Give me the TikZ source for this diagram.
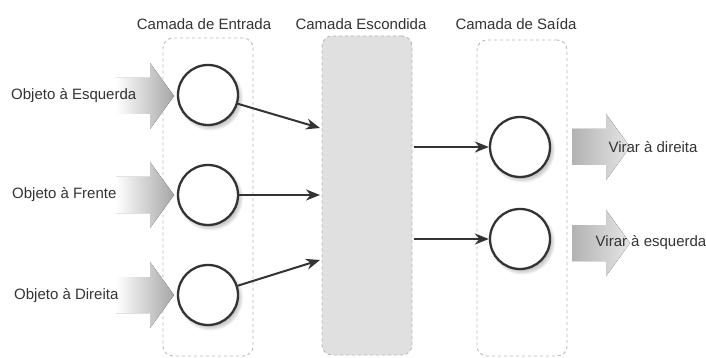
\documentclass[tikz,border=0pt]{standalone}
\usepackage{fontspec}
\setmainfont{Liberation Sans}
\usetikzlibrary{arrows.meta,shadows}
\definecolor{ink}{HTML}{333333}
\definecolor{dashc}{HTML}{B8B8B8}
\begin{document}
\begin{tikzpicture}[x=1pt,y=-1pt,
  txt/.style={font=\fontsize{15}{17}\selectfont, text=ink, inner sep=0pt},
  layerbox/.style={draw=dashc, line width=0.9pt, dash pattern=on 3pt off 3pt, rounded corners=10pt, inner sep=0pt},
  neuron/.style={circle, draw=ink, line width=2.3pt, fill=white, minimum size=60pt, inner sep=0pt,
    circular drop shadow={shadow xshift=2pt, shadow yshift=-2.5pt, opacity=0.35, fill=black!60}},
  link/.style={draw=ink, line width=2pt, -{Stealth[length=14pt,width=11pt]}},
  fatin/.style={left color=white, right color=black!35},
  fatout/.style={left color=black!30, right color=black!10},
  pics/fatarrow/.style={code={\fill[#1] (-58,-18) -- (-24,-18) -- (-24,-33) -- (0,0) -- (-24,33) -- (-24,18) -- (-58,18) -- cycle;}}
]
\useasboundingbox (0,0) rectangle (706,358);

% layer boxes
\node[layerbox, minimum width=90pt, minimum height=318pt] (inbox) at (208,197) {};
\node[layerbox, fill=black!12, minimum width=90pt, minimum height=319pt] (h) at (367,195.5) {};
\node[layerbox, minimum width=90pt, minimum height=316pt] (outbox) at (522,198) {};

% titles
\node[txt] (t1) at (204,24) {Camada de Entrada};
\node[txt] (t2) at (361,24) {Camada Escondida};
\node[txt] (t3) at (516,24) {Camada de Saída};

% fat input arrows
\pic at (174,96) {fatarrow=fatin};
\pic at (174,195) {fatarrow=fatin};
\pic at (174,295) {fatarrow=fatin};
% fat output arrows
\pic at (630,147) {fatarrow=fatout};
\pic at (630,243) {fatarrow=fatout};

% neurons
\node[neuron] (i1) at (208,95) {};
\node[neuron] (i2) at (208,195) {};
\node[neuron] (i3) at (208,295) {};
\node[neuron] (o1) at (520,147) {};
\node[neuron] (o2) at (520,239) {};

% labels
\node[txt, anchor=west] (l1) at (11,96) {Objeto à Esquerda};
\node[txt, anchor=west] (l2) at (12,195) {Objeto à Frente};
\node[txt, anchor=west] (l3) at (14,296) {Objeto à Direita};
\node[txt] (r1) at (653,147) {Virar à direita};
\node[txt] (r2) at (651,243) {Virar à esquerda};

% connectors
\coordinate (h1) at (320,128);
\coordinate (h2) at (320,195);
\coordinate (h3) at (320,260);
\draw[link] (i1) -- (h1);
\draw[link] (i2) -- (h2);
\draw[link] (i3) -- (h3);
\coordinate (g1) at (414,147);
\coordinate (g2) at (414,239);
\draw[link] (g1) -- (o1);
\draw[link] (g2) -- (o2);
\end{tikzpicture}
\end{document}
